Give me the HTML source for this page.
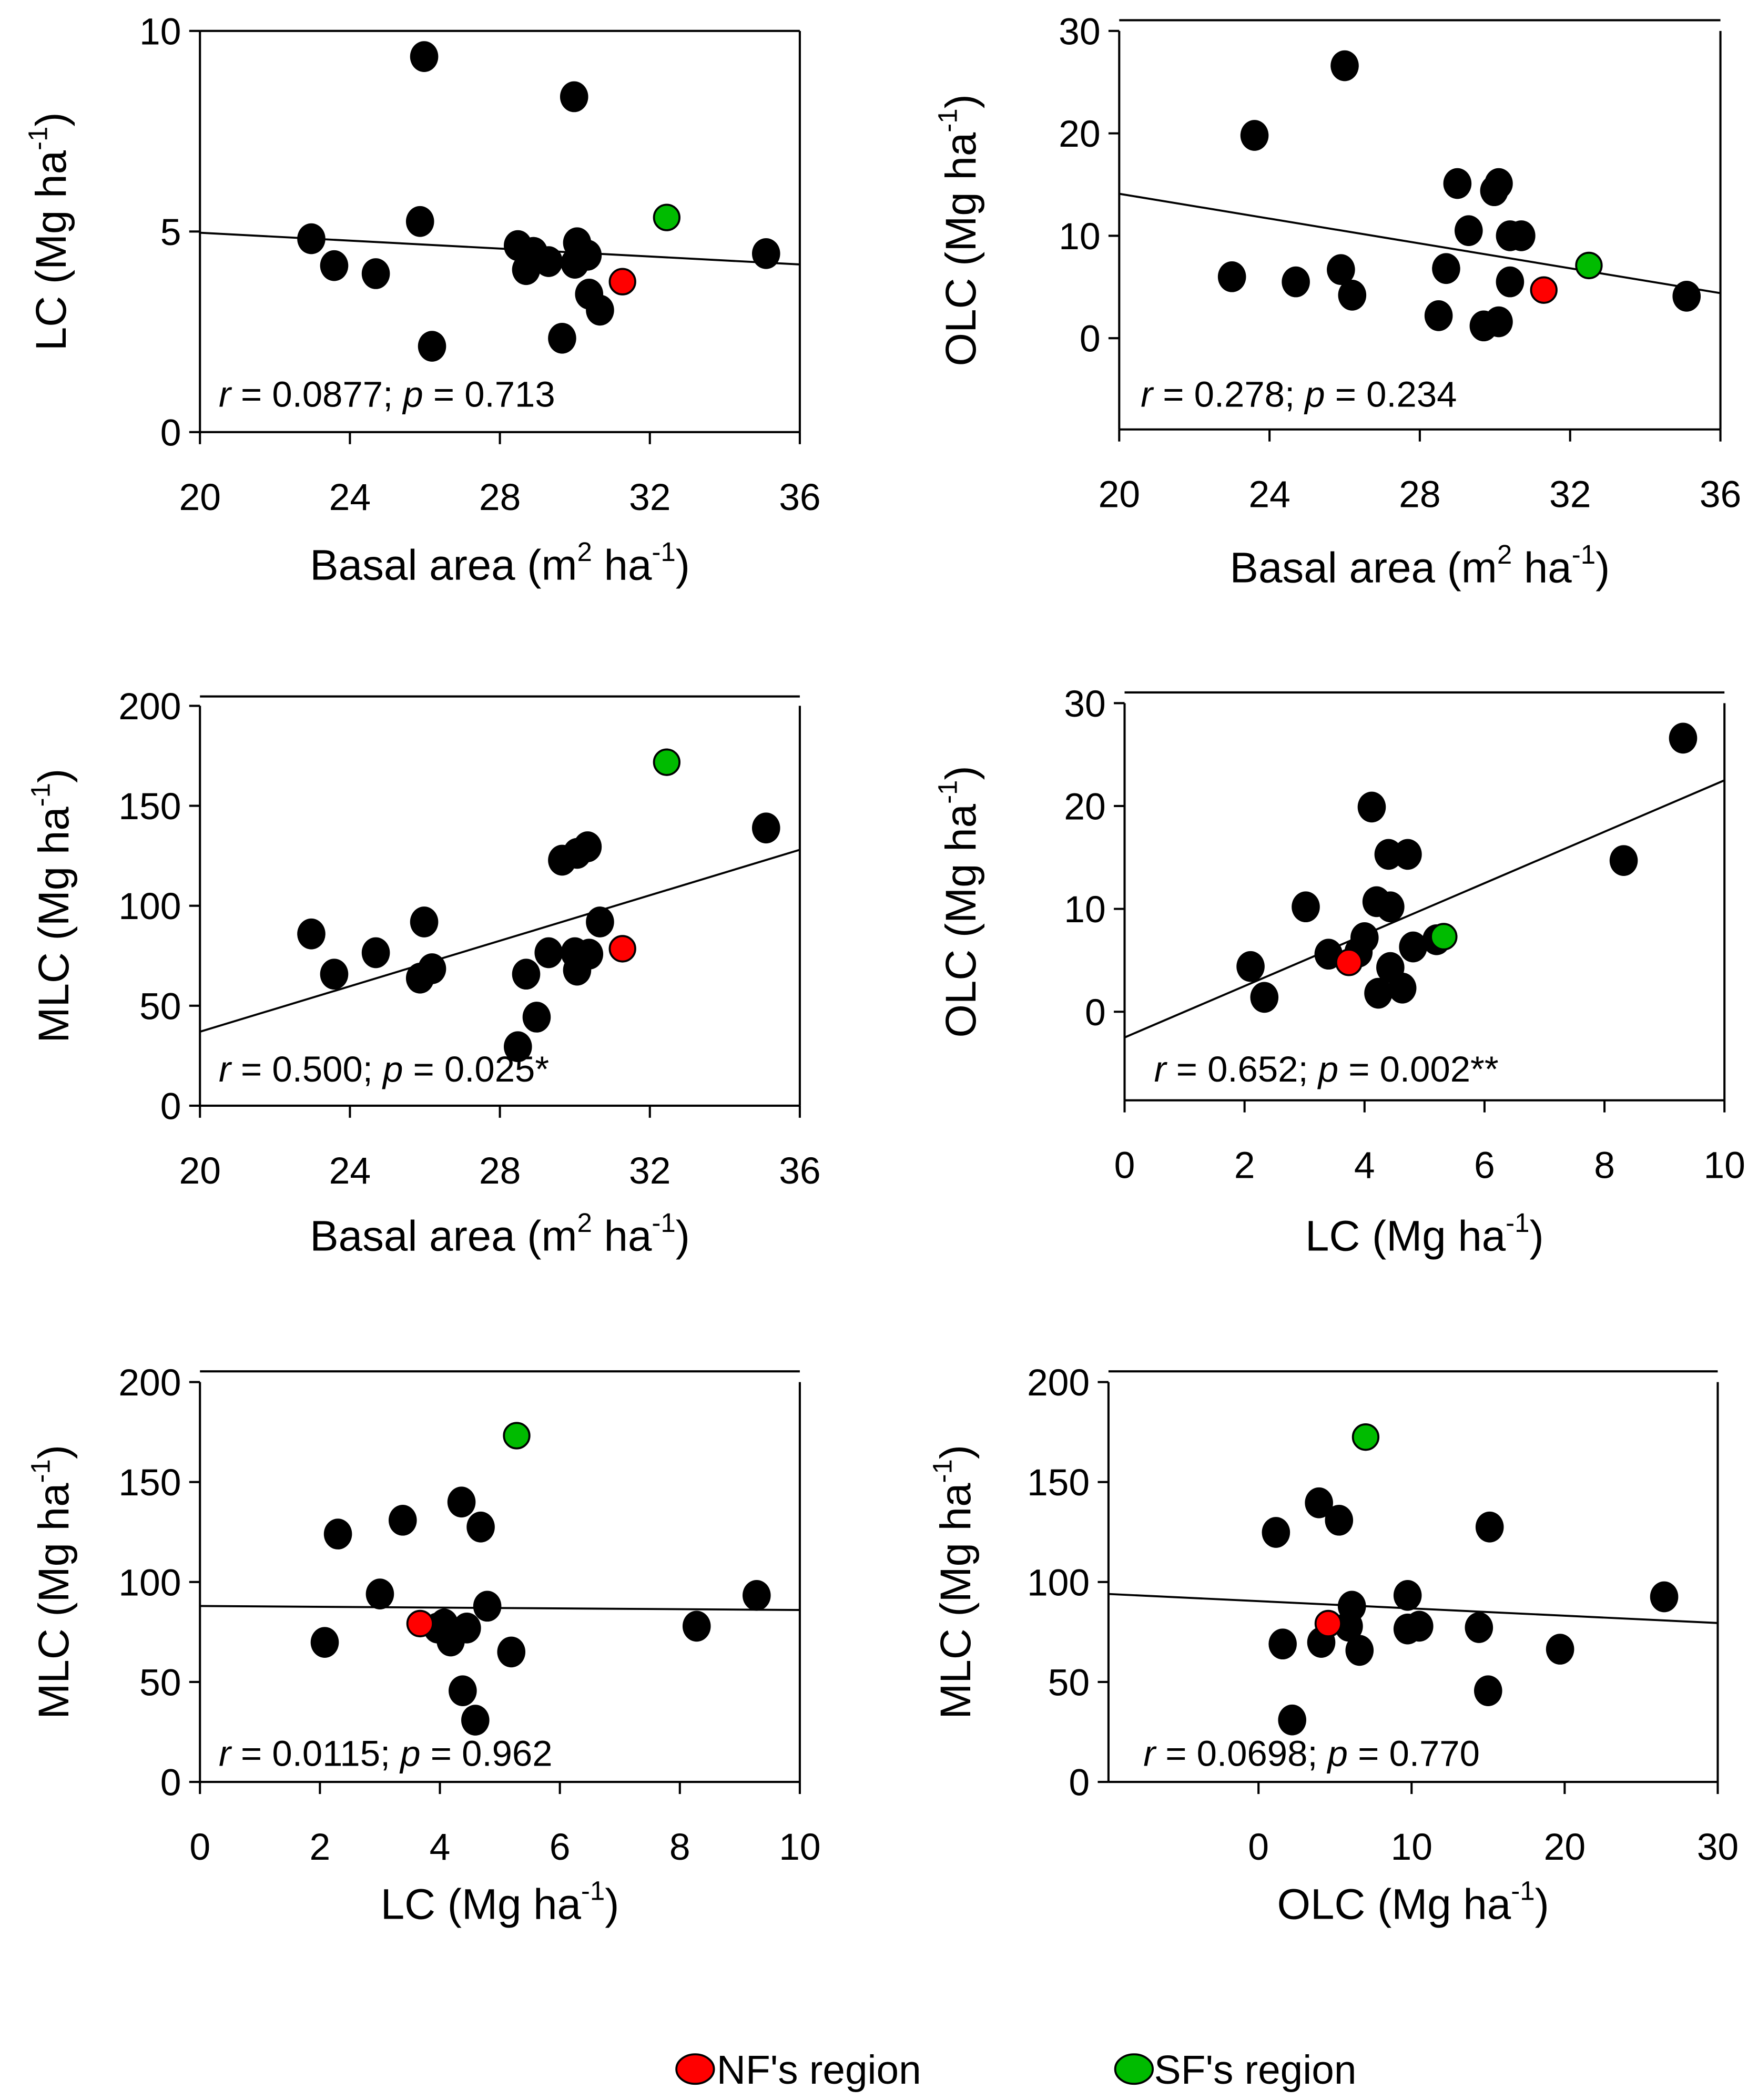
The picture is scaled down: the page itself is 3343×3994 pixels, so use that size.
<!DOCTYPE html>
<html><head><meta charset="utf-8"><title>Carbon scatter plots</title>
<style>
html,body{margin:0;padding:0;background:#fff;}
svg{display:block;font-family:"Liberation Sans",sans-serif;}
</style></head>
<body>
<svg id="fig" width="3343" height="3994" viewBox="0 0 1310 1565" xmlns="http://www.w3.org/2000/svg"></svg>
<script>
// ---- data (per panel) ----
const p1X=[22.97,23.58,24.69,25.98,25.87,26.19,28.48,28.70,28.9,29.3,29.66,29.98,30.06,30.0,30.34,30.38,30.67,35.1];
const p1Y=[4.82,4.15,3.95,9.36,5.25,2.14,4.65,4.05,4.48,4.25,2.34,8.36,4.72,4.21,4.41,3.44,3.04,4.45];
const p1NF=[31.27,3.75], p1SF=[32.45,5.35], p1Fit=[20,4.97,36,4.18];
const p2X=[23.0,23.6,24.7,26.0,25.9,26.2,28.5,28.7,29.0,29.3,29.7,30.1,29.98,30.1,30.4,30.4,30.7,35.1];
const p2Y=[6.0,19.8,5.5,26.6,6.7,4.2,2.2,6.8,15.1,10.5,1.2,1.6,14.4,15.1,10.0,5.5,10.0,4.1];
const p2NF=[31.3,4.7], p2SF=[32.5,7.1], p2Fit=[20,14.1,36,4.4];
const p3X=[22.97,23.58,24.69,25.98,25.87,26.19,28.48,28.70,28.98,29.3,29.66,30.06,30.34,30.0,30.06,30.38,30.67,35.1];
const p3Y=[85.9,65.8,76.5,91.9,63.8,68.5,29.5,65.8,44.3,76.5,122.8,126.2,129.5,76.5,67.8,75.8,91.9,138.9];
const p3NF=[31.27,78.5], p3SF=[32.45,171.8], p3Fit=[20,37,36,128];
const p4X=[2.1,2.33,3.02,3.4,4.0,4.12,4.2,4.23,4.4,4.43,4.43,4.63,4.72,4.81,8.32,9.31,3.9,5.2];
const p4Y=[4.4,1.4,10.2,5.6,7.2,19.9,10.7,1.8,15.3,10.2,4.3,2.3,15.3,6.3,14.7,26.6,5.8,7.0];
const p4NF=[3.74,4.8], p4SF=[5.32,7.3], p4Fit=[0,-2.5,10,22.5];
const p5X=[2.08,2.3,3.0,3.38,3.96,4.18,4.07,4.36,4.38,4.45,4.59,4.68,4.79,5.19,8.28,9.28];
const p5Y=[69.8,124,94,130.9,77,70.5,79,140,45.6,77,30.9,127.5,87.9,65,77.9,93.3];
const p5NF=[3.67,79.2], p5SF=[5.28,173.2], p5Fit=[0,88,10,86];
const p6X=[1.14,1.58,2.2,3.95,4.1,5.26,5.9,6.1,6.6,9.74,9.74,10.5,14.4,15.1,15.0,19.7,26.5];
const p6Y=[124.8,69,31,139.6,69.8,130.9,77.9,87.9,65.8,93.3,76.5,77.9,77.2,127.5,45.6,66.4,92.6];
const p6NF=[4.56,79.2], p6SF=[7.0,172.5], p6Fit=[-9.8,94,30,79.5];
const p1Stats="0.0877", p1P="0.713";
const p2Stats="0.278", p2P="0.234";
const p3Stats="0.500", p3P="0.025*";
const p4Stats="0.652", p4P="0.002**";
const p5Stats="0.0115", p5P="0.962";
const p6Stats="0.0698", p6P="0.770";

// ---- layout ----
const NS="http://www.w3.org/2000/svg";
const svg=document.getElementById('fig');
function mk(tag,attrs,parent,text){const e=document.createElementNS(NS,tag);for(const k in attrs)e.setAttribute(k,attrs[k]);if(text!==undefined)e.textContent=text;(parent||svg).appendChild(e);return e;}

const panels=[
 {id:'lc-vs-basal',X:p1X,Y:p1Y,NF:p1NF,SF:p1SF,fit:p1Fit,r:p1Stats,p:p1P,x0:149,x1:596,xmin:20,xmax:36,xt:[20,24,28,32,36],yTop:23,yBot:322,ymin:0,ymax:10,yt:[0,5,10],axisY:322,frameTop:23,xl:'Basal area (m',xsup:'2',xl2:' ha',xsup2:'-1',xl3:')',yl:'LC (Mg ha',xtitleY:432,ytitleX:38,statsY:303,statsX:163},
 {id:'olc-vs-basal',X:p2X,Y:p2Y,NF:p2NF,SF:p2SF,fit:p2Fit,r:p2Stats,p:p2P,x0:834,x1:1282,xmin:20,xmax:36,xt:[20,24,28,32,36],yTop:23,yBot:252,ymin:0,ymax:30,yt:[0,10,20,30],axisY:320,frameTop:15,xl:'Basal area (m',xsup:'2',xl2:' ha',xsup2:'-1',xl3:')',yl:'OLC (Mg ha',xtitleY:434,ytitleX:716,statsY:303,statsX:850},
 {id:'mlc-vs-basal',X:p3X,Y:p3Y,NF:p3NF,SF:p3SF,fit:p3Fit,r:p3Stats,p:p3P,x0:149,x1:596,xmin:20,xmax:36,xt:[20,24,28,32,36],yTop:526,yBot:824,ymin:0,ymax:200,yt:[0,50,100,150,200],axisY:824,frameTop:519,xl:'Basal area (m',xsup:'2',xl2:' ha',xsup2:'-1',xl3:')',yl:'MLC (Mg ha',xtitleY:932,ytitleX:40,statsY:806,statsX:163},
 {id:'olc-vs-lc',X:p4X,Y:p4Y,NF:p4NF,SF:p4SF,fit:p4Fit,r:p4Stats,p:p4P,x0:838,x1:1285,xmin:0,xmax:10,xt:[0,2,4,6,8,10],yTop:524,yBot:754,ymin:0,ymax:30,yt:[0,10,20,30],axisY:820,frameTop:516,xl:'LC (Mg ha',xsup:'',xl2:'',xsup2:'-1',xl3:')',yl:'OLC (Mg ha',xtitleY:932,ytitleX:716,statsY:806,statsX:860},
 {id:'mlc-vs-lc',X:p5X,Y:p5Y,NF:p5NF,SF:p5SF,fit:p5Fit,r:p5Stats,p:p5P,x0:149,x1:596,xmin:0,xmax:10,xt:[0,2,4,6,8,10],yTop:1030,yBot:1328,ymin:0,ymax:200,yt:[0,50,100,150,200],axisY:1328,frameTop:1022,xl:'LC (Mg ha',xsup:'',xl2:'',xsup2:'-1',xl3:')',yl:'MLC (Mg ha',xtitleY:1430,ytitleX:40,statsY:1316,statsX:163},
 {id:'mlc-vs-olc',X:p6X,Y:p6Y,NF:p6NF,SF:p6SF,fit:p6Fit,r:p6Stats,p:p6P,x0:826,x1:1280,xmin:-9.8,xmax:30,xt:[0,10,20,30],yTop:1030,yBot:1328,ymin:0,ymax:200,yt:[0,50,100,150,200],axisY:1328,frameTop:1022,xl:'OLC (Mg ha',xsup:'',xl2:'',xsup2:'-1',xl3:')',yl:'MLC (Mg ha',xtitleY:1430,ytitleX:712,statsY:1316,statsX:852}
];

panels.forEach(P=>{
  const g=mk('g',{});
  
  
  const sx=v=>P.x0+(v-P.xmin)/(P.xmax-P.xmin)*(P.x1-P.x0);
  const sy=v=>P.yBot-(v-P.ymin)/(P.ymax-P.ymin)*(P.yBot-P.yTop);
  const ln={stroke:'#000','stroke-width':1.6,fill:'none'};
  const top=mk('line',Object.assign({x1:P.x0,y1:P.frameTop,x2:P.x1,y2:P.frameTop},ln),g);
  
  const right=mk('line',Object.assign({x1:P.x1,y1:P.yTop,x2:P.x1,y2:P.axisY},ln),g);
  
  const ya=mk('line',Object.assign({x1:P.x0,y1:P.yTop,x2:P.x0,y2:P.axisY},ln),g);
  
  const xa=mk('line',Object.assign({x1:P.x0,y1:P.axisY,x2:P.x1,y2:P.axisY},ln),g);
  
  P.yt.forEach(t=>{
    const y=sy(t);
    const tk=mk('line',Object.assign({x1:P.x0-8,y1:y,x2:P.x0,y2:y},ln),g);
    
    const lb=mk('text',{x:P.x0-14,y:y+10,'text-anchor':'end','font-size':28},g,String(t));
    
  });
  P.xt.forEach(t=>{
    const x=sx(t);
    const tk=mk('line',Object.assign({x1:x,y1:P.axisY,x2:x,y2:P.axisY+9},ln),g);
    
    const lb=mk('text',{x:x,y:P.axisY+58,'text-anchor':'middle','font-size':28},g,String(t));
    
  });
  const fl=mk('line',{x1:sx(P.fit[0]),y1:sy(P.fit[1]),x2:sx(P.fit[2]),y2:sy(P.fit[3]),stroke:'#000','stroke-width':1.5},g);
  
  P.X.forEach((v,i)=>{
    const c=mk('ellipse',{cx:sx(v),cy:sy(P.Y[i]),rx:10.5,ry:11.5,fill:'#000'},g);
    
  });
  const nf=mk('ellipse',{cx:sx(P.NF[0]),cy:sy(P.NF[1]),rx:9.5,ry:9.5,fill:'#ff0000',stroke:'#000','stroke-width':1.5},g);
  
  const sf=mk('ellipse',{cx:sx(P.SF[0]),cy:sy(P.SF[1]),rx:9.5,ry:9.5,fill:'#00bb00',stroke:'#000','stroke-width':1.5},g);
  
  const st=mk('text',{x:P.statsX,y:P.statsY,'font-size':27},g);
  
  mk('tspan',{'font-style':'italic'},st,'r');
  mk('tspan',{},st,' = '+P.r+'; ');
  mk('tspan',{'font-style':'italic'},st,'p');
  mk('tspan',{},st,' = '+P.p);
  const xt=mk('text',{x:(P.x0+P.x1)/2,y:P.xtitleY,'text-anchor':'middle','font-size':32},g);
  
  mk('tspan',{},xt,P.xl);
  if(P.xsup){mk('tspan',{'font-size':20,dy:-14},xt,P.xsup);mk('tspan',{dy:14},xt,P.xl2);}
  mk('tspan',{'font-size':20,dy:-14},xt,P.xsup2);
  mk('tspan',{dy:14},xt,P.xl3);
  const cy=(P.yTop+P.axisY)/2;
  const yt=mk('text',{x:0,y:0,'text-anchor':'middle','font-size':32,transform:'translate('+(P.ytitleX+11)+','+cy+') rotate(-90)'},g);
  
  mk('tspan',{},yt,P.yl);
  mk('tspan',{'font-size':20,dy:-14},yt,'-1');
  mk('tspan',{dy:14},yt,')');
});

const lg=mk('g',{});

const l1=mk('ellipse',{cx:518,cy:1542,rx:14,ry:11,fill:'#ff0000',stroke:'#000','stroke-width':1.5},lg);

const t1=mk('text',{x:534,y:1553,'font-size':30},lg,"NF's region");

const l2=mk('ellipse',{cx:845,cy:1542,rx:14,ry:11,fill:'#00bb00',stroke:'#000','stroke-width':1.5},lg);

const t2=mk('text',{x:860,y:1553,'font-size':30},lg,"SF's region");

</script>
</body></html>
